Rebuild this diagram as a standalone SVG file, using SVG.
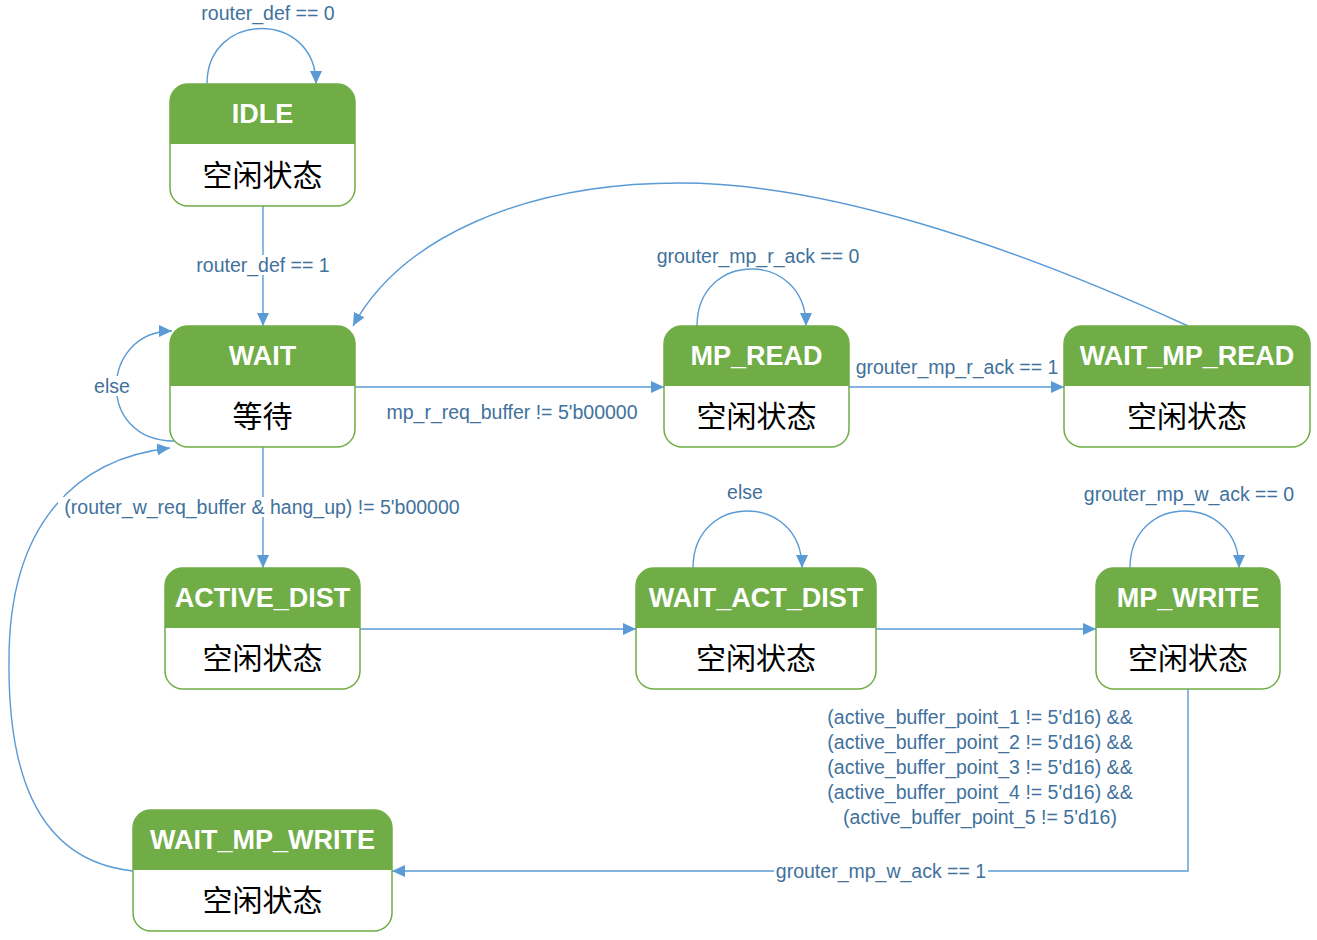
<svg xmlns="http://www.w3.org/2000/svg" width="1317" height="940" viewBox="0 0 1317 940">
<style>
.box{fill:#fff;stroke:#70AD47;stroke-width:1.5}
.hdr{fill:#70AD47}
.ht{font-family:"Liberation Sans",Arial,sans-serif;font-weight:bold;font-size:27px;fill:#fff;text-anchor:middle;dominant-baseline:central}
.bt{font-family:"Noto Sans CJK SC",sans-serif;font-size:30px;fill:#000;text-anchor:middle;dominant-baseline:central}
.ln{fill:none;stroke:#5B9BD5;stroke-width:1.4}
.lb{font-family:"Liberation Sans",Arial,sans-serif;font-size:19.5px;fill:#41719C;text-anchor:middle;dominant-baseline:central}
.bg{fill:#fff}
</style>
<defs>
<marker id="ah" markerUnits="userSpaceOnUse" markerWidth="14" markerHeight="12" refX="13" refY="6" orient="auto">
<path d="M0,0 L13,6 L0,12 Z" fill="#5B9BD5"/>
</marker>
</defs>
<rect width="1317" height="940" fill="#fff"/>
<g id="connectors">
<path class="ln" d="M207,84 C207,10 316,10 316,84" marker-end="url(#ah)"/>
<path class="ln" d="M263,206 L263,326" marker-end="url(#ah)"/>
<path class="ln" d="M174,441 C95,441 100,331 172,331" marker-end="url(#ah)"/>
<path class="ln" d="M355,387 L664,387" marker-end="url(#ah)"/>
<path class="ln" d="M697,326 C697,250 806,250 806,326" marker-end="url(#ah)"/>
<path class="ln" d="M849,387 L1064,387" marker-end="url(#ah)"/>
<path class="ln" d="M1188,326 C1000,240 820,183 680,183 C520,183 400,240 353,326" marker-end="url(#ah)"/>
<path class="ln" d="M263,447 L263,568" marker-end="url(#ah)"/>
<path class="ln" d="M360,629 L636,629" marker-end="url(#ah)"/>
<path class="ln" d="M693,568 C693,492 802,492 802,568" marker-end="url(#ah)"/>
<path class="ln" d="M876,629 L1096,629" marker-end="url(#ah)"/>
<path class="ln" d="M1130,568 C1130,492 1239,492 1239,568" marker-end="url(#ah)"/>
<path class="ln" d="M1188,689 L1188,871 L392,871" marker-end="url(#ah)"/>
<path class="ln" d="M133,871 C30,860 8,760 9,660 C9,520 80,458 170,448" marker-end="url(#ah)"/>
<rect class="bg" x="192" y="255" width="142" height="20"/>
<rect class="bg" x="92" y="376" width="40" height="20"/>
<rect class="bg" x="58" y="497" width="408" height="20"/>
<rect class="bg" x="774" y="861" width="214" height="20"/>
<text class="lb" x="268" y="13">router_def == 0</text>
<text class="lb" x="263" y="265">router_def == 1</text>
<text class="lb" x="112" y="386">else</text>
<text class="lb" x="512" y="412">mp_r_req_buffer != 5'b00000</text>
<text class="lb" x="758" y="256">grouter_mp_r_ack == 0</text>
<text class="lb" x="957" y="367">grouter_mp_r_ack == 1</text>
<text class="lb" x="262" y="507">(router_w_req_buffer &amp; hang_up) != 5'b00000</text>
<text class="lb" x="745" y="492">else</text>
<text class="lb" x="1189" y="494">grouter_mp_w_ack == 0</text>
<text class="lb" x="980" y="717">(active_buffer_point_1 != 5'd16) &amp;&amp;</text>
<text class="lb" x="980" y="742">(active_buffer_point_2 != 5'd16) &amp;&amp;</text>
<text class="lb" x="980" y="767">(active_buffer_point_3 != 5'd16) &amp;&amp;</text>
<text class="lb" x="980" y="792">(active_buffer_point_4 != 5'd16) &amp;&amp;</text>
<text class="lb" x="980" y="817">(active_buffer_point_5 != 5'd16)</text>
<text class="lb" x="881" y="871">grouter_mp_w_ack == 1</text>
</g>
<g id="IDLE">
<rect class="box" x="170" y="84" width="185" height="122" rx="18"/>
<path class="hdr" d="M170,144 L170,102 A18,18 0 0 1 188,84 L337,84 A18,18 0 0 1 355,102 L355,144 Z"/>
<text class="ht" x="262.5" y="114">IDLE</text>
<text class="bt" x="262.5" y="173">空闲状态</text>
</g>
<g id="WAIT">
<rect class="box" x="170" y="326" width="185" height="121" rx="18"/>
<path class="hdr" d="M170,386 L170,344 A18,18 0 0 1 188,326 L337,326 A18,18 0 0 1 355,344 L355,386 Z"/>
<text class="ht" x="262.5" y="356">WAIT</text>
<text class="bt" x="262.5" y="414">等待</text>
</g>
<g id="MP_READ">
<rect class="box" x="664" y="326" width="185" height="121" rx="18"/>
<path class="hdr" d="M664,386 L664,344 A18,18 0 0 1 682,326 L831,326 A18,18 0 0 1 849,344 L849,386 Z"/>
<text class="ht" x="756.5" y="356">MP_READ</text>
<text class="bt" x="756.5" y="414">空闲状态</text>
</g>
<g id="WAIT_MP_READ">
<rect class="box" x="1064" y="326" width="246" height="121" rx="18"/>
<path class="hdr" d="M1064,386 L1064,344 A18,18 0 0 1 1082,326 L1292,326 A18,18 0 0 1 1310,344 L1310,386 Z"/>
<text class="ht" x="1187" y="356">WAIT_MP_READ</text>
<text class="bt" x="1187" y="414">空闲状态</text>
</g>
<g id="ACTIVE_DIST">
<rect class="box" x="165" y="568" width="195" height="121" rx="18"/>
<path class="hdr" d="M165,628 L165,586 A18,18 0 0 1 183,568 L342,568 A18,18 0 0 1 360,586 L360,628 Z"/>
<text class="ht" x="262.5" y="598">ACTIVE_DIST</text>
<text class="bt" x="262.5" y="656">空闲状态</text>
</g>
<g id="WAIT_ACT_DIST">
<rect class="box" x="636" y="568" width="240" height="121" rx="18"/>
<path class="hdr" d="M636,628 L636,586 A18,18 0 0 1 654,568 L858,568 A18,18 0 0 1 876,586 L876,628 Z"/>
<text class="ht" x="756" y="598">WAIT_ACT_DIST</text>
<text class="bt" x="756" y="656">空闲状态</text>
</g>
<g id="MP_WRITE">
<rect class="box" x="1096" y="568" width="184" height="121" rx="18"/>
<path class="hdr" d="M1096,628 L1096,586 A18,18 0 0 1 1114,568 L1262,568 A18,18 0 0 1 1280,586 L1280,628 Z"/>
<text class="ht" x="1188" y="598">MP_WRITE</text>
<text class="bt" x="1188" y="656">空闲状态</text>
</g>
<g id="WAIT_MP_WRITE">
<rect class="box" x="133" y="810" width="259" height="121" rx="18"/>
<path class="hdr" d="M133,870 L133,828 A18,18 0 0 1 151,810 L374,810 A18,18 0 0 1 392,828 L392,870 Z"/>
<text class="ht" x="262.5" y="840">WAIT_MP_WRITE</text>
<text class="bt" x="262.5" y="898">空闲状态</text>
</g>
</svg>
